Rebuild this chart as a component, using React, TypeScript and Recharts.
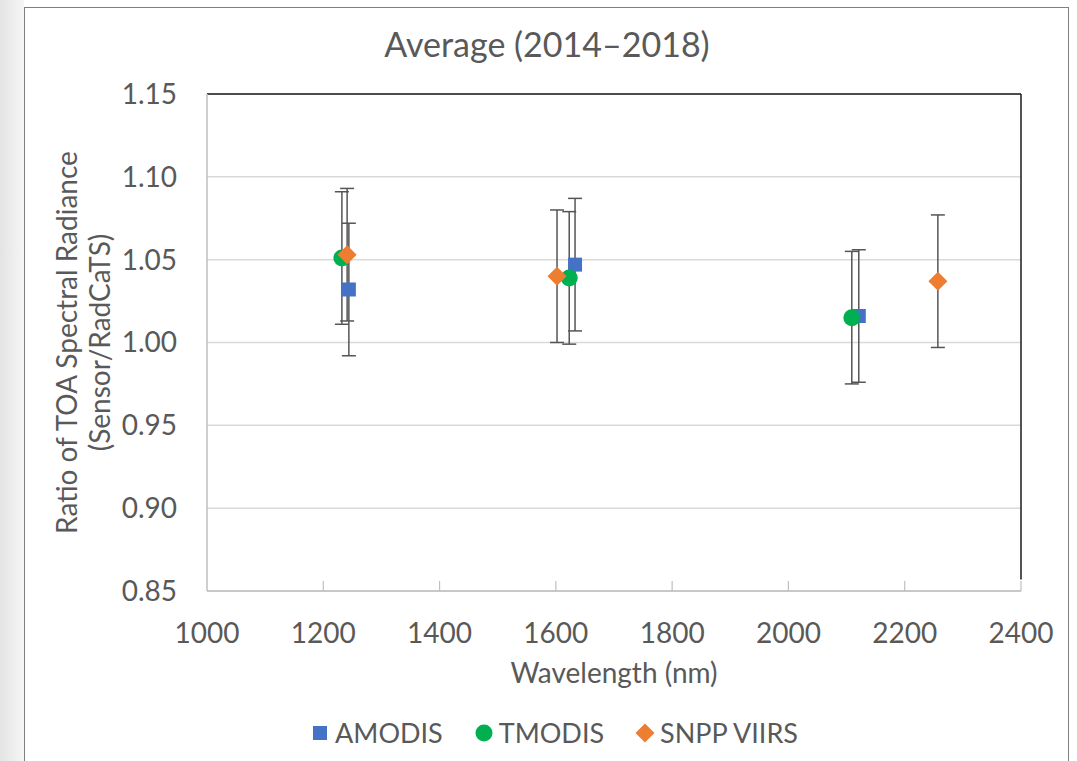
import React from 'react';
import {
  ScatterChart,
  Scatter,
  XAxis,
  YAxis,
  CartesianGrid,
  ErrorBar,
  ReferenceLine,
} from 'recharts';

// Band-averaged ratios with their uncertainty, one array per sensor
const amodisWavelength = [1244, 1633, 2121];
const amodisRatio = [1.032, 1.047, 1.016];
const amodisError = [0.04, 0.04, 0.04];

const tmodisWavelength = [1232, 1623, 2109];
const tmodisRatio = [1.051, 1.039, 1.015];
const tmodisError = [0.04, 0.04, 0.04];

const viirsWavelength = [1241, 1602, 2257];
const viirsRatio = [1.053, 1.04, 1.037];
const viirsError = [0.04, 0.04, 0.04];

const xTicks = [1000, 1200, 1400, 1600, 1800, 2000, 2200, 2400];
const yTicks = [0.85, 0.9, 0.95, 1.0, 1.05, 1.1, 1.15];

const FONT = "Lato, 'Open Sans', sans-serif";
const TEXT = '#595959';

const toPoints = (xs: number[], ys: number[], errs: number[]) =>
  xs.map((x, i) => ({ x, y: ys[i], err: errs[i] }));

const series = [
  { name: 'AMODIS', color: '#4472C4', shape: 'square', data: toPoints(amodisWavelength, amodisRatio, amodisError) },
  { name: 'TMODIS', color: '#00B050', shape: 'circle', data: toPoints(tmodisWavelength, tmodisRatio, tmodisError) },
  { name: 'SNPP VIIRS', color: '#ED7D31', shape: 'diamond', data: toPoints(viirsWavelength, viirsRatio, viirsError) },
];

const Marker = ({ kind, cx, cy, color }: { kind: string; cx: number; cy: number; color: string }) => {
  if (kind === 'square') return <rect x={cx - 7} y={cy - 7} width={14} height={14} fill={color} />;
  if (kind === 'circle') return <circle cx={cx} cy={cy} r={8.5} fill={color} />;
  const d = 9.5;
  return <polygon points={`${cx},${cy - d} ${cx + d},${cy} ${cx},${cy + d} ${cx - d},${cy}`} fill={color} />;
};

const XTick = (props: any) => {
  const { x, y, payload } = props;
  return (
    <g>
      {payload.value > 1000 && <line x1={x} x2={x} y1={y - 10} y2={y} stroke="#BFBFBF" strokeWidth={1.2} />}
      <text x={x} y={y + 52} textAnchor="middle" fill={TEXT} fontSize={28} fontFamily={FONT}>
        {payload.value}
      </text>
    </g>
  );
};

const YLabel = (props: any) => {
  const { viewBox } = props;
  const cy = viewBox.y + viewBox.height / 2;
  const x1 = viewBox.x + 42;
  const x2 = viewBox.x + 75;
  return (
    <g fill={TEXT} fontSize={28} fontFamily={FONT} textAnchor="middle">
      <text x={x1} y={cy} transform={`rotate(-90 ${x1} ${cy})`} dominantBaseline="central">
        Ratio of TOA Spectral Radiance
      </text>
      <text x={x2} y={cy} transform={`rotate(-90 ${x2} ${cy})`} dominantBaseline="central">
        (Sensor/RadCaTS)
      </text>
    </g>
  );
};

const LegendIcon = ({ kind, color }: { kind: string; color: string }) => (
  <svg width={22} height={22} style={{ marginRight: 4 }}>
    <Marker kind={kind} cx={11} cy={11} color={color} />
  </svg>
);

export default function App() {
  return (
    <div style={{ position: 'absolute', left: 0, top: 0, width: 1077, height: 761, background: '#fff', overflow: 'hidden' }}>
      <div style={{ position: 'absolute', left: 0, top: 0, width: 24, height: 761, background: 'linear-gradient(to right, #e4e4e4, #f6f6f6)' }} />
      <div
        style={{
          position: 'absolute',
          left: 24,
          top: 7,
          width: 1045,
          height: 800,
          borderTop: '1.5px solid #7f7f7f',
          borderLeft: '1.5px solid #7f7f7f',
          borderRight: '1.5px solid #7f7f7f',
          boxSizing: 'border-box',
        }}
      />
      <div
        style={{
          position: 'absolute',
          left: 0,
          top: 24,
          width: 1094,
          textAlign: 'center',
          fontFamily: FONT,
          fontSize: 34,
          color: TEXT,
          lineHeight: '40px',
        }}
      >
        Average (2014–2018)
      </div>
      <ScatterChart width={1077} height={761} margin={{ top: 94, right: 56, bottom: 70, left: 24 }} style={{ position: 'absolute', left: 0, top: 0 }}>
        <CartesianGrid vertical={false} stroke="#D9D9D9" strokeWidth={1.5} />
        <XAxis
          type="number"
          dataKey="x"
          domain={[1000, 2400]}
          ticks={xTicks}
          height={100}
          stroke="#BFBFBF"
          strokeWidth={1.5}
          tickLine={false}
          tickSize={0}
          tickMargin={0}
          tick={<XTick />}
          label={{ value: 'Wavelength (nm)', position: 'insideBottom', offset: 8, fill: TEXT, fontSize: 28, fontFamily: FONT }}
        />
        <YAxis
          type="number"
          dataKey="y"
          domain={[0.85, 1.15]}
          ticks={yTicks}
          width={183}
          stroke="#BFBFBF"
          strokeWidth={1.5}
          tickLine={false}
          tickSize={0}
          tickMargin={30}
          tickFormatter={(v: number) => v.toFixed(2)}
          tick={{ fill: TEXT, fontSize: 28, fontFamily: FONT }}
          label={<YLabel />}
        />
        <ReferenceLine y={1.15} stroke="#1a1a1a" strokeWidth={1.5} />
        <ReferenceLine
          segment={[
            { x: 2400, y: 0.857 },
            { x: 2400, y: 1.15 },
          ]}
          stroke="#1a1a1a"
          strokeWidth={1.5}
        />
        {/* error bars first so every marker sits on top of them */}
        {series.map((s) => (
          <Scatter key={`${s.name}-err`} name={`${s.name}-err`} data={s.data} isAnimationActive={false} shape={() => <g />}>
            <ErrorBar dataKey="err" direction="y" width={7} stroke="#555555" strokeWidth={1.5} isAnimationActive={false} />
          </Scatter>
        ))}
        {series.map((s) => (
          <Scatter
            key={s.name}
            name={s.name}
            data={s.data}
            isAnimationActive={false}
            shape={(p: any) => <Marker kind={s.shape} cx={p.cx} cy={p.cy} color={s.color} />}
          />
        ))}
      </ScatterChart>
      <div
        style={{
          position: 'absolute',
          left: 0,
          top: 714,
          width: 1107,
          display: 'flex',
          justifyContent: 'center',
          alignItems: 'center',
          gap: 30,
          fontFamily: FONT,
          fontSize: 27,
          color: TEXT,
          lineHeight: '38px',
        }}
      >
        {series.map((s) => (
          <div key={s.name} style={{ display: 'flex', alignItems: 'center' }}>
            <LegendIcon kind={s.shape} color={s.color} />
            {s.name}
          </div>
        ))}
      </div>
    </div>
  );
}
